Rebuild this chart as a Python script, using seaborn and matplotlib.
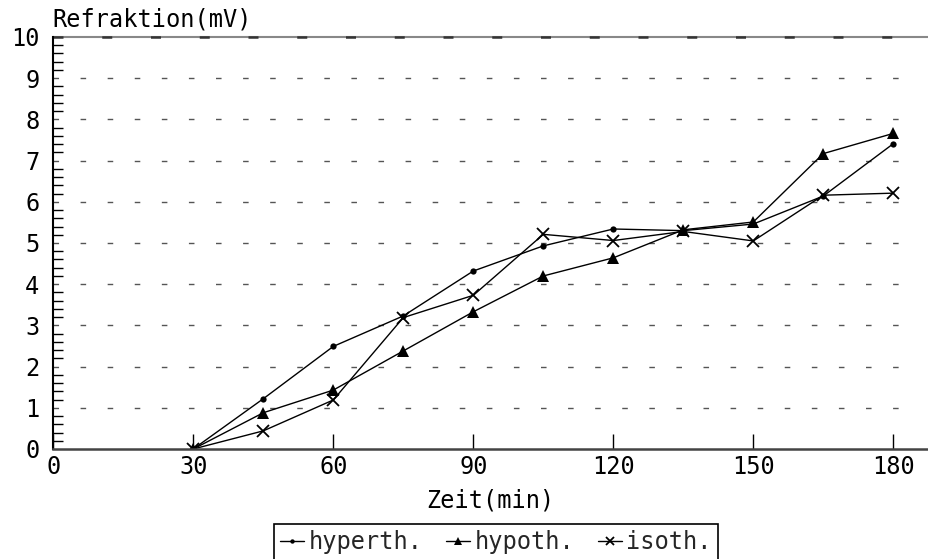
import numpy as np
import pandas as pd
import matplotlib
matplotlib.use("Agg")
import matplotlib.pyplot as plt
import seaborn as sns
from matplotlib.ticker import MultipleLocator

# ---- data ----
zeit = [30, 45, 60, 75, 90, 105, 120, 135, 150, 165, 180]
hyperth = [0.0, 1.22, 2.49, 3.23, 4.32, 4.93, 5.34, 5.30, 5.46, 6.14, 7.41]
hypoth = [0.0, 0.88, 1.43, 2.38, 3.33, 4.20, 4.64, 5.32, 5.51, 7.17, 7.66]
isoth = [0.0, 0.44, 1.19, 3.19, 3.73, 5.21, 5.06, 5.28, 5.05, 6.16, 6.21]
series_names = ["hyperth.", "hypoth.", "isoth."]
x_ticks = [0, 30, 60, 90, 120, 150, 180]
y_ticks = list(range(0, 11))

df = pd.DataFrame({
    "Zeit": zeit * 3,
    "Wert": hyperth + hypoth + isoth,
    "Serie": np.repeat(series_names, len(zeit)),
})

sns.set_theme(style="white")
plt.rcParams["font.family"] = ["DejaVu Sans Mono", "DejaVu Sans"]

fig = plt.figure(figsize=(9.29, 5.59), dpi=100)
ax = fig.add_axes([53.3 / 929, 110 / 559, (928 - 53.3) / 929, (412) / 559])

styles = {
    "hyperth.": dict(marker="o", markersize=4.5, mew=0),
    "hypoth.": dict(marker="^", markersize=9, mew=0),
    "isoth.": dict(marker="x", markersize=8, mew=1.3),
}
for name in series_names:
    sub = df[df["Serie"] == name]
    sns.lineplot(data=sub, x="Zeit", y="Wert", ax=ax, color="black",
                 linewidth=1.0, label=name, markeredgecolor="black",
                 **styles[name])

ax.set_xlim(0, (928 - 53.3) / (140 / 30))
ax.set_ylim(0, 10)
ax.set_xticks(x_ticks)
ax.set_yticks(y_ticks)
ax.yaxis.set_minor_locator(MultipleLocator(0.2))

# grid: dashed horizontal lines
for yv in y_ticks[1:-1]:
    ax.axhline(yv, color="#555555", lw=1.0, ls=(0, (4, 15.5)), zorder=0,
               xmax=(916 - 53.3) / (928 - 53.3))
ax.axhline(10, color="#888888", lw=1.5, ls="-", zorder=0, clip_on=False)
ax.axhline(10, color="#333333", lw=1.8, ls=(0, (4, 15.5)), zorder=0,
           clip_on=False)

for s in ["top", "right"]:
    ax.spines[s].set_visible(False)
ax.spines["left"].set_color("black")
ax.spines["left"].set_linewidth(1.5)
ax.spines["bottom"].set_color("#444444")
ax.spines["bottom"].set_linewidth(1.8)

ax.tick_params(axis="x", which="major", direction="in", length=11, width=1,
               color="black", labelsize=17, pad=4, bottom=True)
ax.tick_params(axis="y", which="major", direction="in", length=0,
               labelsize=17, pad=10, left=True)
ax.tick_params(axis="y", which="minor", direction="in", length=7, width=1,
               color="black", left=True)
for lbl in ax.get_xticklabels() + ax.get_yticklabels():
    lbl.set_color("black")

ax.set_xlabel("Zeit(min)", fontsize=17, color="black", labelpad=7)
ax.set_ylabel("")
fig.text(52 / 929, 1 - 19 / 559, "Refraktion(mV)", fontsize=17,
         color="black", ha="left", va="center")

leg = ax.legend(loc="upper center", bbox_to_anchor=(496 / 929, 1 - 524 / 559),
                bbox_transform=fig.transFigure, ncol=3, frameon=True,
                fancybox=False, edgecolor="black", framealpha=1.0,
                fontsize=17, handlelength=1.0, handletextpad=0.2,
                columnspacing=1.0, borderpad=0.25, borderaxespad=0)
leg.get_frame().set_linewidth(1.2)
for h in leg.legend_handles:
    h.set_markersize(h.get_markersize() * 0.7)
    h.set_color("black")

fig.savefig("out.png", dpi=100, facecolor="white")
